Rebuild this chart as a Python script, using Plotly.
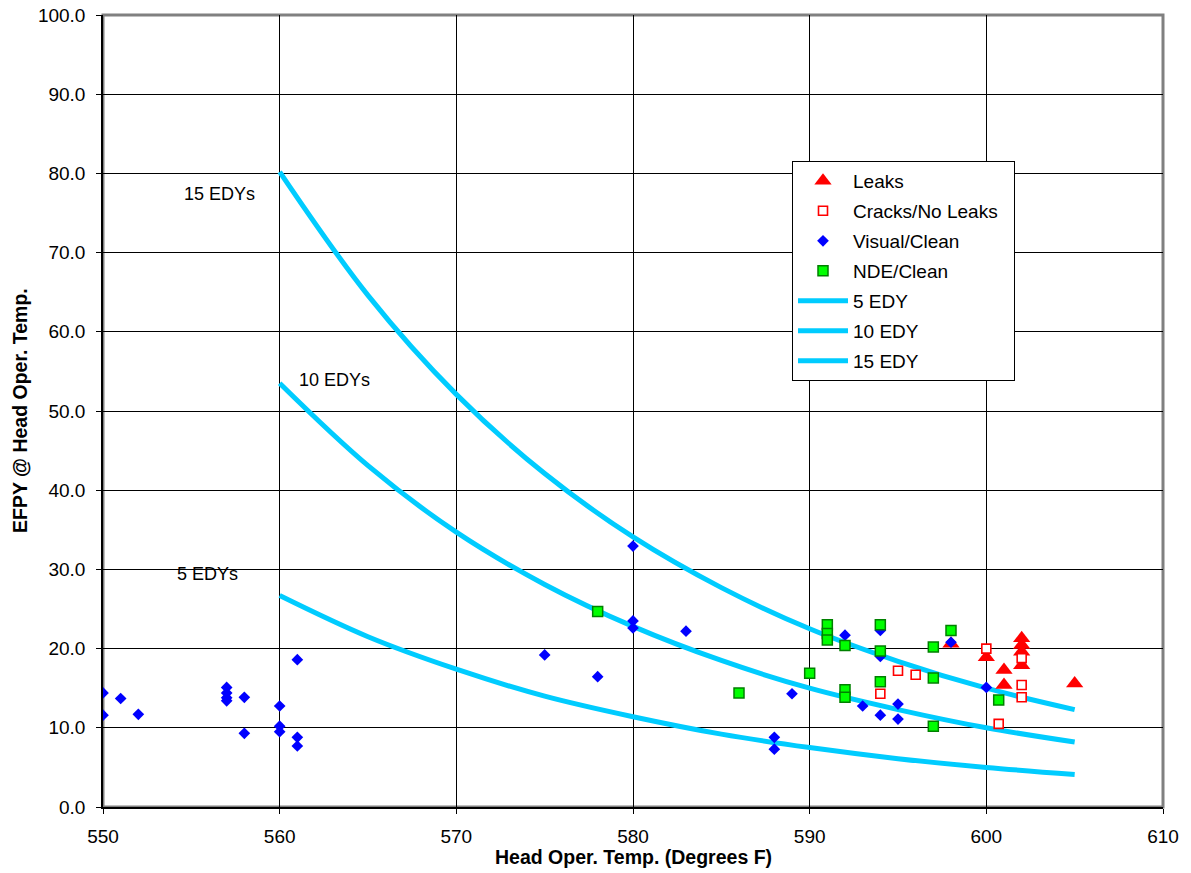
import plotly.graph_objects as go

# Reference curves, every 5 deg F
curve_x = [560, 565, 570, 575, 580, 585, 590, 595, 600, 605]
edy5 = [26.7, 21.5, 17.4, 14.0, 11.4, 9.2, 7.5, 6.1, 5.0, 4.1]
edy10 = [53.5, 43.1, 34.7, 28.1, 22.8, 18.5, 15.0, 12.3, 10.0, 8.2]
edy15 = [80.2, 64.6, 52.1, 42.1, 34.1, 27.7, 22.5, 18.4, 15.0, 12.3]

# Leaks
leaks_x = [598, 600, 601, 601, 602, 602, 602, 602, 605]
leaks_y = [20.6, 18.9, 17.3, 15.4, 21.3, 20.45, 19.6, 17.9, 15.6]

# Cracks / No Leaks
cracks_x = [594, 595, 596, 600, 600.7, 602, 602, 602]
cracks_y = [14.3, 17.2, 16.7, 20.0, 10.5, 18.8, 15.4, 13.85]

# Visual / Clean
visual_x = [550, 550, 551, 552, 557, 557, 557, 557, 558, 558, 560, 560, 560,
            561, 561, 561, 575, 578, 580, 580, 580, 583, 588, 588, 589, 592,
            593, 594, 594, 594, 595, 595, 598, 600]
visual_y = [14.4, 11.6, 13.7, 11.7, 15.1, 14.4, 13.8, 13.4, 13.85, 9.3, 12.75,
            10.2, 9.5, 18.6, 8.8, 7.7, 19.2, 16.45, 32.95, 23.5, 22.6, 22.2,
            8.8, 7.3, 14.3, 21.7, 12.75, 22.3, 19.0, 11.6, 13.0, 11.1, 20.8,
            15.1]

# NDE / Clean
nde_x = [578, 586, 590, 591, 591, 591, 592, 592, 592, 594, 594, 594, 597, 597,
         597, 598, 600.7]
nde_y = [24.7, 14.4, 16.9, 23.0, 21.9, 21.1, 20.4, 14.8, 13.85, 23.0, 19.7,
         15.8, 20.2, 16.3, 10.2, 22.3, 13.5]

x_ticks = [550, 560, 570, 580, 590, 600, 610]
y_ticks = [0, 10, 20, 30, 40, 50, 60, 70, 80, 90, 100]

curve_labels = ["5 EDYs", "10 EDYs", "15 EDYs"]
curve_label_pos = [(555.9, 29.4), (563.1, 53.9), (556.6, 77.4)]

FONT = "Liberation Sans, Arial, sans-serif"
CYAN = "#00CCFF"

fig = go.Figure()

# curves first (drawn below markers)
for xs, ys in [(curve_x, edy5), (curve_x, edy10), (curve_x, edy15)]:
    fig.add_trace(go.Scatter(x=xs, y=ys, mode="lines", line=dict(color=CYAN, width=5, shape="spline"),
                             showlegend=False, hoverinfo="skip"))

fig.add_trace(go.Scatter(x=leaks_x, y=leaks_y, mode="markers", name="Leaks", legendgroup="a",
                         marker=dict(symbol="triangle-up", size=15, color="#FF0000", line=dict(width=0))))
fig.add_trace(go.Scatter(x=cracks_x, y=cracks_y, mode="markers", name="Cracks/No Leaks\u00a0\u00a0", legendgroup="b",
                         marker=dict(symbol="square", size=9, color="white", line=dict(width=1.6, color="#FF0000"))))
fig.add_trace(go.Scatter(x=visual_x, y=visual_y, mode="markers", name="Visual/Clean", legendgroup="c",
                         marker=dict(symbol="diamond", size=9, color="#0000FF", line=dict(width=0))))
fig.add_trace(go.Scatter(x=nde_x, y=nde_y, mode="markers", name="NDE/Clean", legendgroup="d",
                         marker=dict(symbol="square", size=10, color="#00FF00", line=dict(width=1.5, color="#008000"))))
for nm, g in [("5 EDY", "e"), ("10 EDY", "f"), ("15 EDY", "g")]:
    fig.add_trace(go.Scatter(x=[None], y=[None], mode="lines", name=nm, legendgroup=g,
                             line=dict(color=CYAN, width=5)))

annotations = []
for txt, (ax, ay) in zip(curve_labels, curve_label_pos):
    annotations.append(dict(x=ax, y=ay, xref="x", yref="y", text=txt, showarrow=False,
                            font=dict(family=FONT, size=18, color="black")))
annotations.append(dict(x=0.5, y=-0.0631, xref="paper", yref="paper", text="<b>Head Oper. Temp. (Degrees F)</b>",
                        showarrow=False, xanchor="center", yanchor="middle",
                        font=dict(family=FONT, size=19.5, color="black")))
annotations.append(dict(x=-0.0783, y=0.5, xref="paper", yref="paper", text="<b>EFPY @ Head Oper. Temp.</b>",
                        showarrow=False, textangle=-90, xanchor="center", yanchor="middle",
                        font=dict(family=FONT, size=19.5, color="black")))

fig.update_layout(
    width=1191, height=873,
    margin=dict(l=103, r=28, t=15, b=66, autoexpand=False),
    paper_bgcolor="white", plot_bgcolor="white",
    font=dict(family=FONT, size=19, color="black"),
    showlegend=True,
    legend=dict(x=0.65, y=0.8157, xanchor="left", yanchor="top",
                bgcolor="white", bordercolor="black", borderwidth=1,
                font=dict(family=FONT, size=19, color="black"),
                traceorder="grouped", tracegroupgap=2.3, itemwidth=50),
    annotations=annotations,
    shapes=[dict(type="rect", xref="paper", yref="paper", x0=0, y0=0, x1=1, y1=1,
                 line=dict(color="#808080", width=3), layer="below")],
)
fig.update_xaxes(range=[550, 610], tickvals=x_ticks, ticktext=[str(v) for v in x_ticks],
                 showgrid=True, gridcolor="black", gridwidth=1, zeroline=False, automargin=False,
                 showline=True, linecolor="black", linewidth=1.5,
                 ticks="outside", ticklen=5, tickcolor="black", ticklabelstandoff=6,
                 tickfont=dict(family=FONT, size=19, color="black"))
fig.update_yaxes(range=[0, 100], tickvals=y_ticks, ticktext=[f"{v:.1f}" for v in y_ticks],
                 showgrid=True, gridcolor="black", gridwidth=1, zeroline=False, automargin=False,
                 showline=True, linecolor="black", linewidth=1.5,
                 ticks="outside", ticklen=5, tickcolor="black", ticklabelstandoff=7,
                 tickfont=dict(family=FONT, size=19, color="black"))

fig.write_html("out.html")
